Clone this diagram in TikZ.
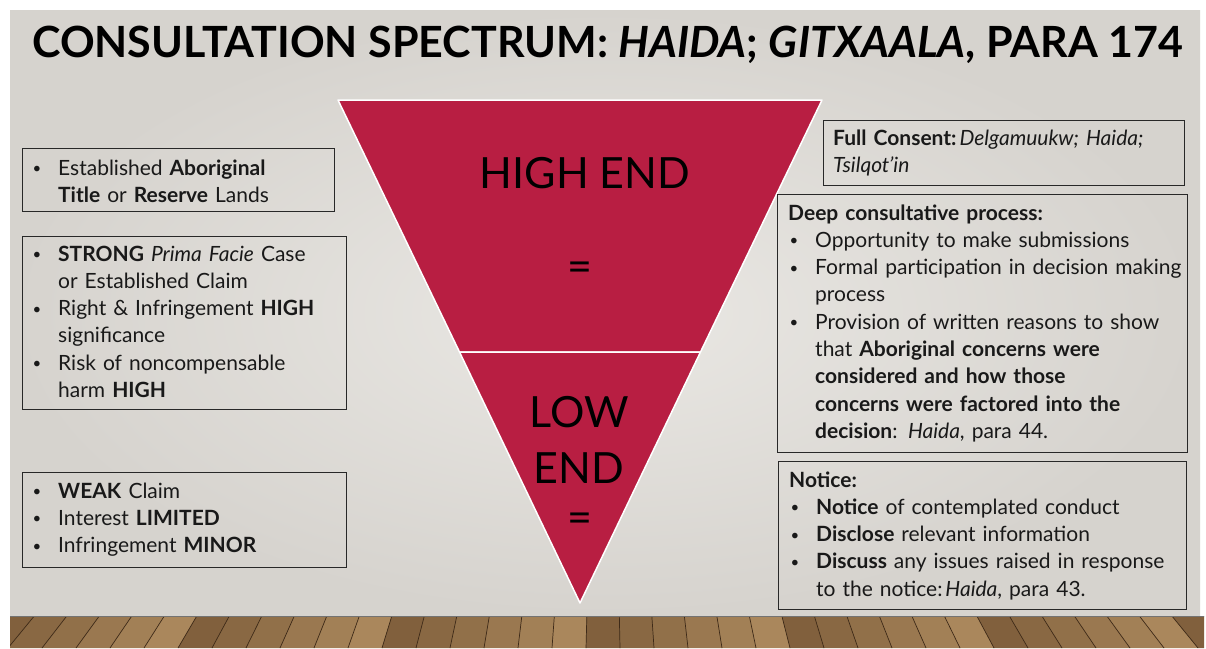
\documentclass[tikz,border=0pt]{standalone}
\usepackage{fontspec}
\setmainfont{Lato}
\usetikzlibrary{positioning}

\definecolor{crimson}{RGB}{184,30,66}
\definecolor{slidemid}{RGB}{234,232,228}
\definecolor{slideedge}{RGB}{214,211,206}
\definecolor{wood}{RGB}{112,80,48}
\definecolor{woodlight}{RGB}{180,145,100}
\definecolor{wooddark}{RGB}{62,42,24}
\definecolor{boxline}{RGB}{40,40,40}

\newcommand{\bodyfont}{\fontsize{21}{27.3}\selectfont}
\newcommand{\bigfont}{\fontsize{43}{50}\selectfont}
\newcommand{\titlefont}{\fontsize{43}{50}\selectfont\bfseries}
\newcommand{\bul}{\makebox[27pt][l]{\hspace{1.5pt}\raisebox{1.5pt}{\fontsize{15}{15}\selectfont\textbullet}}}
\newcommand{\ind}{\hspace*{27pt}}

\tikzstyle{frame} = [rectangle, draw=boxline, line width=1.3pt, anchor=north west,
                     inner sep=0pt]
\tikzstyle{body}  = [anchor=base west, inner sep=0pt, align=left, text width=430pt,
                     font=\bodyfont, text=black!90]
\tikzstyle{big}   = [inner sep=0pt, anchor=base, font=\bigfont, text=black]
\tikzstyle{band}  = [fill=crimson, draw=white, line width=1.5pt, line join=round]

\begin{document}
\begin{tikzpicture}[x=1pt, y=-1pt]
\useasboundingbox (0,0) rectangle (1206,648);
\fill[white] (0,0) rectangle (1206,648);
\shade[inner color=slidemid, outer color=slideedge] (10,10) rectangle (1200,616);

% floor boards running towards the wall
\begin{scope}
  \clip (10,616) rectangle (1204,648);
  \fill[wood] (10,616) rectangle (1204,648);
  \foreach \x [count=\i] in {-400,-366,...,1640} {
    \pgfmathsetmacro\xa{605+(\x-605)*0.956}
    \pgfmathsetmacro\xb{605+(\x+34-605)*0.956}
    \pgfmathsetmacro\tone{int(25+12*mod(\i*7,6))}
    \fill[woodlight!\tone!wood] (\x,648) -- (\x+34,648) -- (\xb,616) -- (\xa,616) -- cycle;
    \draw[wooddark, line width=0.7pt] (\x,648) -- (\xa,616);
  }
  \draw[black!55, line width=1.2pt] (10,616) -- (1204,616);
\end{scope}

\node (title) [anchor=base west, inner sep=0pt, font=\titlefont]
  at (32,57) {CONSULTATION SPECTRUM: \textit{HAIDA}; \textit{GITXAALA}, PARA 174};

\draw[band] (338,100) -- (822,100) -- (700.5,352) -- (459.5,352) -- cycle;
\draw[band] (459.5,352) -- (700.5,352) -- (580,603) -- cycle;

\node (high) [big] at (585,188) {HIGH END};
\node (heq)  [big, anchor=center] at (580,272) {=};
\node (low)  [big] at (579,427) {LOW};
\node (lend) [big] at (579,483) {END};
\node (leq)  [big, anchor=center] at (580,523) {=};

\node (lbox1) [frame, minimum width=312pt, minimum height=63pt]  at (22,148) {};
\node (lbox2) [frame, minimum width=324pt, minimum height=173pt] at (22,236) {};
\node (lbox3) [frame, minimum width=324pt, minimum height=95pt]  at (22,472) {};
\node (rbox1) [frame, minimum width=361pt, minimum height=65pt]  at (823,120) {};
\node (rbox2) [frame, minimum width=410pt, minimum height=258pt] at (777,194) {};
\node (rbox3) [frame, minimum width=408pt, minimum height=148pt] at (778,461) {};

\node (ltxt1) [body] at (31,175) {%
  \bul Established \textbf{Aboriginal}\\
  \ind\textbf{Title} or \textbf{Reserve} Lands};
\node (ltxt2) [body] at (31,261) {%
  \bul\textbf{STRONG} \textit{Prima Facie} Case\\
  \ind or Established Claim\\
  \bul Right \& Infringement \textbf{HIGH}\\
  \ind significance\\
  \bul Risk of noncompensable\\
  \ind harm \textbf{HIGH}};
\node (ltxt3) [body] at (31,498) {%
  \bul\textbf{WEAK} Claim\\
  \bul Interest \textbf{LIMITED}\\
  \bul Infringement \textbf{MINOR}};

\node (rtxt1) [body] at (833,145) {%
  \textbf{Full Consent:}\hspace{3pt}\textit{Delgamuukw; Haida;}\\
  \textit{Tsilqot’in}};
\node (rtxt2) [body] at (788,220) {%
  \textbf{Deep consultative process:}\\
  \bul Opportunity to make submissions\\
  \bul Formal participation in decision making\\
  \ind process\\
  \bul Provision of written reasons to show\\
  \ind that \textbf{Aboriginal concerns were}\\
  \ind\textbf{considered and how those}\\
  \ind\textbf{concerns were factored into the}\\
  \ind\textbf{decision}: \textit{Haida}, para 44.};
\node (rtxt3) [body] at (789,487) {%
  \textbf{Notice:}\\
  \bul\textbf{Notice} of contemplated conduct\\
  \bul\textbf{Disclose} relevant information\\
  \bul\textbf{Discuss} any issues raised in response\\
  \ind to the notice:\hspace{3pt}\textit{Haida}, para 43.};
\end{tikzpicture}
\end{document}
